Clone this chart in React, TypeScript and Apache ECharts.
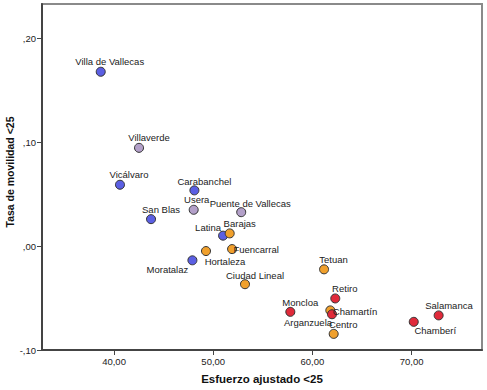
import React, { useEffect, useRef } from "react";
import * as echarts from "echarts";

// ---- data ----
const districts = [
  "Villa de Vallecas", "Villaverde", "Vicálvaro", "Carabanchel", "Usera",
  "Puente de Vallecas", "San Blas", "Latina", "Barajas", "Hortaleza",
  "Fuencarral", "Moratalaz", "Ciudad Lineal", "Tetuan", "Retiro",
  "Moncloa", "Chamartín", "Arganzuela", "Centro", "Chamberí", "Salamanca",
];
const esfuerzo = [
  38.66, 42.52, 40.6, 48.1, 48.03,
  52.82, 43.73, 50.99, 51.66, 49.27,
  51.9, 47.9, 53.2, 61.17, 62.3,
  57.77, 61.8, 61.97, 62.14, 70.21, 72.72,
];
const tasa = [
  0.1677, 0.0945, 0.059, 0.0536, 0.0349,
  0.0326, 0.0259, 0.01, 0.0122, -0.0048,
  -0.0029, -0.0137, -0.0367, -0.0224, -0.0504,
  -0.0633, -0.0619, -0.0656, -0.0845, -0.0729, -0.0667,
];
const grupo = [
  0, 1, 0, 0, 1,
  1, 0, 0, 2, 2,
  2, 0, 2, 2, 3,
  3, 2, 3, 2, 3, 3,
];
const xTicks = [40, 50, 60, 70];
const yTicks = [-0.1, 0, 0.1, 0.2];
const xTitle = "Esfuerzo ajustado <25";
const yTitle = "Tasa de movilidad <25";

// ---- styles ----
const groupColors = ["#5b5fe3", "#b3a0c9", "#f0a02c", "#e02a3a"];
const labelOffsets: Record<string, [number, number]> = {
  "Villa de Vallecas": [9, -10],
  "Villaverde": [10, -10],
  "Vicálvaro": [9, -10],
  "Carabanchel": [10, -9],
  "Usera": [3, -10],
  "Puente de Vallecas": [9, -9],
  "San Blas": [10, -10],
  "Latina": [-15, -8],
  "Barajas": [10, -10],
  "Hortaleza": [19, 10],
  "Fuencarral": [24, 0],
  "Moratalaz": [-25, 9],
  "Ciudad Lineal": [10, -9],
  "Tetuan": [9.5, -10],
  "Retiro": [9.5, -9.6],
  "Moncloa": [10, -9.4],
  "Chamartín": [24.7, 0.7],
  "Arganzuela": [-24, 8],
  "Centro": [9.5, -9.4],
  "Chamberí": [21.5, 9],
  "Salamanca": [10.3, -9.6],
};
const FONT = "'Liberation Sans', Arial, sans-serif";

function fmt(v: number) {
  const s = v.toFixed(2).replace(".", ",");
  return s.replace(/^(-?)0,/, "$1,");
}

export default function App() {
  const ref = useRef<HTMLDivElement>(null);
  useEffect(() => {
    if (!ref.current) return;
    const chart = echarts.init(ref.current, undefined, { renderer: "svg" });
    const series = groupColors.map((color, g) => ({
      type: "scatter",
      symbol: "circle",
      symbolSize: 9,
      itemStyle: { color, borderColor: "#333", borderWidth: 1, opacity: 1 },
      label: {
        show: true,
        position: "inside",
        formatter: "{b}",
        color: "#222",
        fontSize: 9.5,
        fontFamily: FONT,
      },
      data: districts
        .map((name, i) => ({ name, i }))
        .filter((d) => grupo[d.i] === g)
        .map((d) => ({
          name: d.name,
          value: [esfuerzo[d.i], tasa[d.i]],
          label: { offset: labelOffsets[d.name] || [0, -10] },
        })),
    }));
    chart.setOption({
      animation: false,
      backgroundColor: "#fff",
      grid: {
        left: 42,
        right: 5,
        top: 4,
        bottom: 39,
        show: true,
        borderColor: "#8a8a8a",
        borderWidth: 2,
      },
      xAxis: {
        type: "value",
        min: 32.74,
        max: 77.09,
        name: xTitle,
        nameLocation: "middle",
        nameGap: 23,
        nameTextStyle: { fontFamily: FONT, fontSize: 11.5, fontWeight: "bold", color: "#111" },
        axisLine: { show: true, onZero: false, lineStyle: { color: "#444", width: 2 } },
        axisTick: { show: true, length: 5, customValues: xTicks, lineStyle: { color: "#444", width: 1 } },
        axisLabel: {
          customValues: xTicks,
          formatter: (v: number) => fmt(v),
          fontFamily: FONT,
          fontSize: 9.5,
          color: "#222",
          margin: 6,
        },
        splitLine: { show: false },
      },
      yAxis: {
        type: "value",
        min: -0.1,
        max: 0.2329,
        axisLine: { show: true, onZero: false, lineStyle: { color: "#444", width: 2 } },
        axisTick: { show: true, length: 5, customValues: yTicks, lineStyle: { color: "#444", width: 1 } },
        axisLabel: {
          customValues: yTicks,
          formatter: (v: number) => fmt(v),
          fontFamily: FONT,
          fontSize: 9.5,
          color: "#222",
          margin: 6,
        },
        splitLine: { show: false },
      },
      graphic: [
        {
          type: "text",
          x: 10,
          y: 172,
          rotation: Math.PI / 2,
          style: {
            text: yTitle,
            textAlign: "center",
            textVerticalAlign: "middle",
            fontFamily: FONT,
            fontSize: 10.5,
            fontWeight: "bold",
            fill: "#111",
          },
        },
      ],
      series,
    });
    return () => chart.dispose();
  }, []);
  return (
    <div
      ref={ref}
      style={{ position: "fixed", left: 0, top: 0, width: 487, height: 390, background: "#fff" }}
    />
  );
}
